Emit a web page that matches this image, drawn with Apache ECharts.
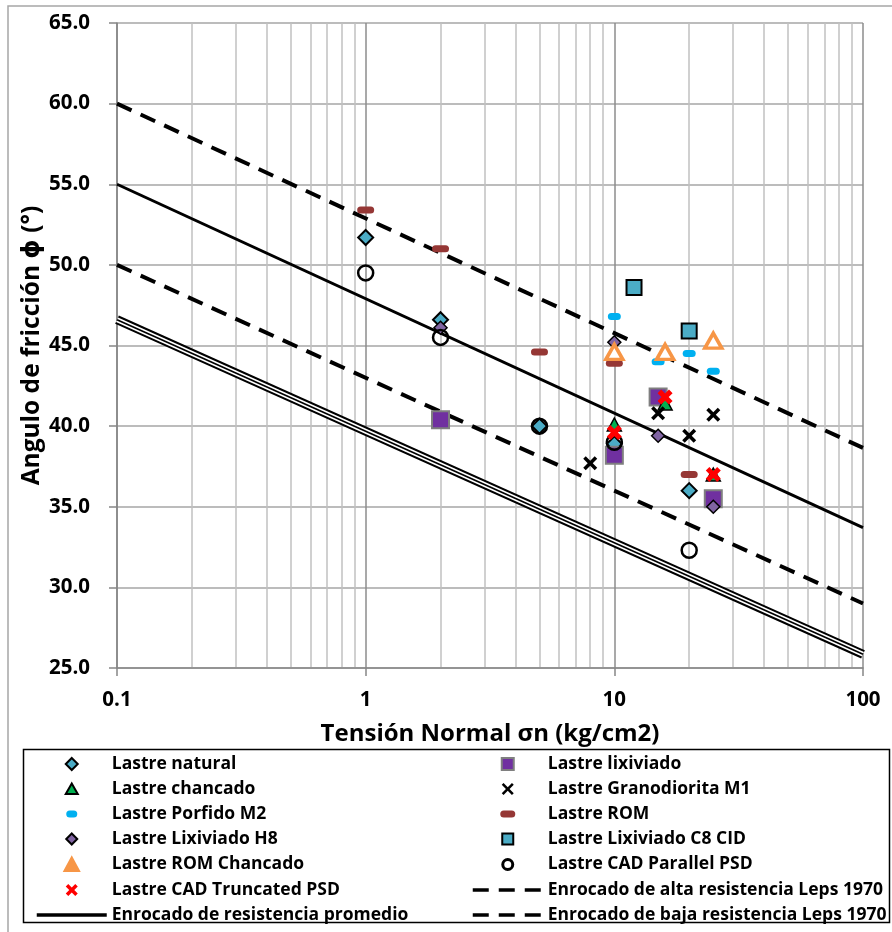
<!DOCTYPE html>
<html>
<head>
<meta charset="utf-8">
<script src="https://cdn.jsdelivr.net/npm/echarts@6/dist/echarts.min.js"></script>
<style>
  html, body { margin: 0; padding: 0; background: #fff; }
  #chart { width: 892px; height: 932px; }
</style>
</head>
<body>
<div id="chart"></div>
<script>
// datos: [tension normal (kg/cm2), angulo de friccion (grados)]
const lastreNatural = [[1, 51.7], [2, 46.6], [5, 40.0], [10, 38.9], [20, 36.0]];
const lastreLixiviado = [[2, 40.4], [10, 38.2], [15, 41.8], [25, 35.5]];
const lastreChancado = [[10, 40.1], [16, 41.4], [25, 37.0]];
const lastreGranodiorita = [[8, 37.7], [15, 40.8], [20, 39.4], [25, 40.7]];
const lastrePorfido = [[10, 46.8], [15, 44.0], [20, 44.5], [25, 43.4]];
const lastreRom = [[1, 53.4], [2, 51.0], [5, 44.6], [10, 43.9], [20, 37.0]];
const lastreH8 = [[2, 46.1], [10, 45.2], [15, 39.4], [25, 35.0]];
const lastreC8 = [[12, 48.6], [20, 45.9]];
const lastreRomChancado = [[10, 44.6], [16, 44.6], [25, 45.3]];
const lastreParallel = [[1, 49.5], [2, 45.5], [5, 40.0], [10, 39.0], [20, 32.3]];
const lastreTruncated = [[10, 39.6], [16, 41.8], [25, 37.0]];

// rectas de Leps 1970 (extremos del rango)
const sigmaRango = [0.1, 100];
const lepsAlta = [60.0, 38.65];
const lepsPromedio = [55.0, 33.7];
const lepsBaja = [50.0, 29.0];
const bandaInferior = [46.6, 25.85];

// lineas secundarias de la escala logaritmica
const divisionesMenores = [0.2, 0.3, 0.4, 0.5, 0.6, 0.7, 0.8, 0.9, 2, 3, 4, 5, 6, 7, 8, 9, 20, 30, 40, 50, 60, 70, 80, 90];

const legendaIzq = ['Lastre natural', 'Lastre chancado', 'Lastre Porfido M2', 'Lastre Lixiviado H8',
  'Lastre ROM Chancado', 'Lastre CAD Truncated PSD', 'Enrocado de resistencia promedio'];
const legendaDer = ['Lastre lixiviado', 'Lastre Granodiorita M1', 'Lastre ROM', 'Lastre Lixiviado C8 CID',
  'Lastre CAD Parallel PSD', 'Enrocado de alta resistencia Leps 1970', 'Enrocado de baja resistencia Leps 1970'];

const FONT = '"Open Sans", "DejaVu Sans", sans-serif';

const cruz = 'path://M0,1.8L1.8,0L5,3.2L8.2,0L10,1.8L6.8,5L10,8.2L8.2,10L5,6.8L1.8,10L0,8.2L3.2,5Z';
const cruzGruesa = 'path://M0,2.4L2.4,0L5,2.6L7.6,0L10,2.4L7.4,5L10,7.6L7.6,10L5,7.4L2.4,10L0,7.6L2.6,5Z';
const guion = 'path://M3.5,0L9.5,0A3.5,3.5,0,0,1,9.5,7L3.5,7A3.5,3.5,0,0,1,3.5,0Z';
const guionLargo = 'path://M3.5,0L13.5,0A3.5,3.5,0,0,1,13.5,7L3.5,7A3.5,3.5,0,0,1,3.5,0Z';

// iconos de leyenda dentro de una caja de 16x16
const ic = s => 'path://M0,0M16,16' + s;
const iconos = {
  'Lastre natural': ic('M8,2L14,8L8,14L2,8Z'),
  'Lastre chancado': ic('M8,2.5L14,13L2,13Z'),
  'Lastre Porfido M2': ic('M6,4.5L10,4.5A3.5,3.5,0,0,1,10,11.5L6,11.5A3.5,3.5,0,0,1,6,4.5Z'),
  'Lastre Lixiviado H8': ic('M8,2.5L13.5,8L8,13.5L2.5,8Z'),
  'Lastre ROM Chancado': ic('M8,2L14.5,14L1.5,14Z'),
  'Lastre CAD Truncated PSD': ic('M2,4.5L4.5,2L8,5.5L11.5,2L14,4.5L10.5,8L14,11.5L11.5,14L8,10.5L4.5,14L2,11.5L5.5,8Z'),
  'Lastre lixiviado': ic('M2,2L14,2L14,14L2,14Z'),
  'Lastre Granodiorita M1': ic('M2,3.8L3.8,2L8,6.2L12.2,2L14,3.8L9.8,8L14,12.2L12.2,14L8,9.8L3.8,14L2,12.2L6.2,8Z'),
  'Lastre ROM': ic('M4,4.5L12,4.5A3.5,3.5,0,0,1,12,11.5L4,11.5A3.5,3.5,0,0,1,4,4.5Z'),
  'Lastre Lixiviado C8 CID': ic('M2.5,2.5L13.5,2.5L13.5,13.5L2.5,13.5Z'),
  'Lastre CAD Parallel PSD': ic('M8,3A5,5,0,1,1,8,13A5,5,0,1,1,8,3Z'),
};
const estiloLeyenda = {
  'Lastre ROM Chancado': { color: '#f79646', borderWidth: 3 },
  'Lastre CAD Parallel PSD': { borderWidth: 3 },
};

function itemsLeyenda(nombres) {
  return nombres.map(n => {
    if (!iconos[n]) return { name: n, itemStyle: { opacity: 0 } };
    const it = { name: n, icon: iconos[n] };
    if (estiloLeyenda[n]) it.itemStyle = estiloLeyenda[n];
    return it;
  });
}

function puntos(name, data, symbol, size, itemStyle) {
  return { name, type: 'scatter', data, symbol, symbolSize: size, itemStyle: Object.assign({ opacity: 1 }, itemStyle), z: 3 };
}

function recta(name, ys, lineStyle, extra) {
  return Object.assign({
    name,
    type: 'line',
    data: sigmaRango.map((x, i) => [x, ys[i]]),
    symbol: 'none',
    showSymbol: false,
    lineStyle,
    silent: true,
    z: 2,
  }, extra || {});
}

const chart = echarts.init(document.getElementById('chart'));

const leyendaBase = {
  orient: 'vertical',
  top: 755,
  padding: 0,
  itemWidth: 70,
  itemHeight: 16,
  itemGap: 7,
  selectedMode: false,
  symbolKeepAspect: true,
  lineStyle: { width: 3.5 },
  textStyle: { fontFamily: FONT, fontWeight: 'bold', fontSize: 17.5, color: '#000', lineHeight: 16 },
};

chart.setOption({
  backgroundColor: '#fff',
  animation: false,
  graphic: [
    { type: 'rect', shape: { x: 8, y: 6, width: 900, height: 940 }, style: { fill: 'none', stroke: '#a6a6a6', lineWidth: 1.5 }, silent: true, z: -10 },
    { type: 'rect', shape: { x: 23.5, y: 749.5, width: 866, height: 173 }, style: { fill: 'none', stroke: '#000', lineWidth: 1.5 }, silent: true },
  ],
  legend: [
    Object.assign({}, leyendaBase, { left: 35, data: itemsLeyenda(legendaIzq) }),
    Object.assign({}, leyendaBase, { left: 471, data: itemsLeyenda(legendaDer) }),
  ],
  grid: { left: 117, right: 29, top: 23, bottom: 264 },
  xAxis: {
    type: 'log',
    logBase: 10,
    min: 0.1,
    max: 100,
    name: 'Tensión Normal σn (kg/cm2)',
    nameLocation: 'middle',
    nameGap: 54,
    nameTextStyle: { fontFamily: FONT, fontWeight: 'bold', fontSize: 24, color: '#000' },
    axisLine: { lineStyle: { color: '#868686', width: 1.5 } },
    axisTick: { show: true, inside: false, length: 8, lineStyle: { color: '#868686', width: 1.5 } },
    axisLabel: { margin: 22, fontFamily: FONT, fontWeight: 'bold', fontSize: 20.5, color: '#000', formatter: v => String(v) },
    splitLine: { show: true, lineStyle: { color: '#8c8c8c', width: 1.5 } },
  },
  yAxis: {
    type: 'value',
    min: 25,
    max: 65,
    interval: 5,
    name: 'Angulo de fricción ϕ (°)',
    nameLocation: 'middle',
    nameGap: 72,
    nameMoveOverlap: false,
    nameTextStyle: { fontFamily: FONT, fontWeight: 'bold', fontSize: 24.5, color: '#000' },
    axisLine: { show: true, lineStyle: { color: '#868686', width: 1.5 } },
    axisTick: { show: true, inside: false, length: 8, lineStyle: { color: '#868686', width: 1.5 } },
    axisLabel: { margin: 27, fontFamily: FONT, fontWeight: 'bold', fontSize: 20.5, color: '#000', formatter: v => v.toFixed(1) },
    splitLine: { show: true, lineStyle: { color: '#a6a6a6', width: 1.5 } },
  },
  series: [
    recta('trazo exterior', bandaInferior, { color: '#000', width: 9 }, {
      z: 1,
      markLine: {
        silent: true,
        symbol: 'none',
        z: 0,
        label: { show: false },
        lineStyle: { color: '#c0c0c0', width: 1.5, type: 'solid' },
        emphasis: { disabled: true },
        data: divisionesMenores.map(v => ({ xAxis: v })),
      },
    }),
    recta('trazo medio', bandaInferior, { color: '#fff', width: 5 }, { z: 1 }),
    recta('trazo interior', bandaInferior, { color: '#000', width: 1.8 }, { z: 1 }),
    recta('Enrocado de alta resistencia Leps 1970', lepsAlta, { color: '#000', width: 4, type: [16, 10] }),
    recta('Enrocado de resistencia promedio', lepsPromedio, { color: '#000', width: 3 }),
    recta('Enrocado de baja resistencia Leps 1970', lepsBaja, { color: '#000', width: 4, type: [16, 10] }),

    puntos('Lastre natural', lastreNatural, 'diamond', 15, { color: '#4bacc6', borderColor: '#000', borderWidth: 2 }),
    puntos('Lastre lixiviado', lastreLixiviado, 'rect', 17, { color: '#7030a0', borderColor: '#7f7f7f', borderWidth: 2 }),
    puntos('Lastre chancado', lastreChancado, 'triangle', [14, 13], { color: '#00b050', borderColor: '#000', borderWidth: 1.5 }),
    puntos('Lastre Granodiorita M1', lastreGranodiorita, cruz, 14, { color: '#000' }),
    puntos('Lastre Porfido M2', lastrePorfido, guion, [13, 7], { color: '#00b0f0' }),
    puntos('Lastre ROM', lastreRom, guionLargo, [17, 7], { color: '#953735' }),
    puntos('Lastre Lixiviado H8', lastreH8, 'diamond', 13, { color: '#8064a2', borderColor: '#000', borderWidth: 1.5 }),
    puntos('Lastre Lixiviado C8 CID', lastreC8, 'rect', 15, { color: '#4bacc6', borderColor: '#000', borderWidth: 2 }),
    puntos('Lastre ROM Chancado', lastreRomChancado, 'triangle', [17, 15], { color: '#fff', borderColor: '#f79646', borderWidth: 3.5 }),
    puntos('Lastre CAD Parallel PSD', lastreParallel, 'circle', 15, { color: 'rgba(255,255,255,0)', borderColor: '#000', borderWidth: 2.5 }),
    puntos('Lastre CAD Truncated PSD', lastreTruncated, cruzGruesa, 15, { color: '#ff0000' }),
  ],
});
</script>
</body>
</html>
